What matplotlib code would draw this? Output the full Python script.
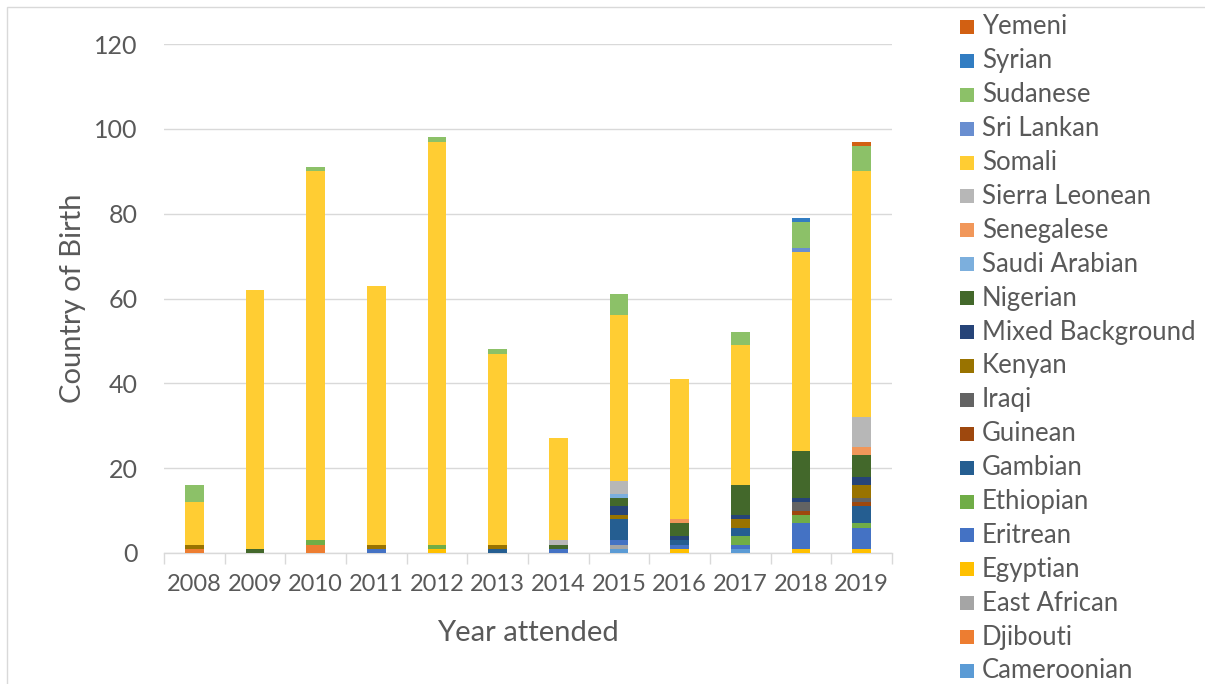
import matplotlib
matplotlib.use("Agg")
import matplotlib.pyplot as plt
from matplotlib.patches import Rectangle
import numpy as np

plt.rcParams['font.family'] = ['Lato', 'DejaVu Sans']

years = ['2008', '2009', '2010', '2011', '2012', '2013', '2014',
         '2015', '2016', '2017', '2018', '2019']

# Stacked from the bottom up
countries = ['Cameroonian', 'Djibouti', 'East African', 'Egyptian', 'Eritrean',
             'Ethiopian', 'Gambian', 'Guinean', 'Iraqi', 'Kenyan',
             'Mixed Background', 'Nigerian', 'Saudi Arabian', 'Senegalese',
             'Sierra Leonean', 'Somali', 'Sri Lankan', 'Sudanese', 'Syrian',
             'Yemeni']

cameroonian     = [0, 0, 0, 0, 0, 0, 0, 1, 0, 1, 0, 0]
djibouti        = [1, 0, 2, 0, 0, 0, 0, 0, 0, 0, 0, 0]
east_african    = [0, 0, 0, 0, 0, 0, 0, 1, 0, 0, 0, 0]
egyptian        = [0, 0, 0, 0, 1, 0, 0, 0, 1, 0, 1, 1]
eritrean        = [0, 0, 0, 1, 0, 0, 1, 1, 1, 1, 6, 5]
ethiopian       = [0, 0, 1, 0, 1, 0, 0, 0, 0, 2, 2, 1]
gambian         = [0, 0, 0, 0, 0, 1, 0, 5, 1, 2, 0, 4]
guinean         = [0, 0, 0, 0, 0, 0, 0, 0, 0, 0, 1, 1]
iraqi           = [0, 0, 0, 0, 0, 0, 0, 0, 0, 0, 2, 1]
kenyan          = [1, 0, 0, 1, 0, 1, 0, 1, 0, 2, 0, 3]
mixed           = [0, 0, 0, 0, 0, 0, 0, 2, 1, 1, 1, 2]
nigerian        = [0, 1, 0, 0, 0, 0, 1, 2, 3, 7, 11, 5]
saudi_arabian   = [0, 0, 0, 0, 0, 0, 0, 1, 0, 0, 0, 0]
senegalese      = [0, 0, 0, 0, 0, 0, 0, 0, 1, 0, 0, 2]
sierra_leonean  = [0, 0, 0, 0, 0, 0, 1, 3, 0, 0, 0, 7]
somali          = [10, 61, 87, 61, 95, 45, 24, 39, 33, 33, 47, 58]
sri_lankan      = [0, 0, 0, 0, 0, 0, 0, 0, 0, 0, 1, 0]
sudanese        = [4, 0, 1, 0, 1, 1, 0, 5, 0, 3, 6, 6]
syrian          = [0, 0, 0, 0, 0, 0, 0, 0, 0, 0, 1, 0]
yemeni          = [0, 0, 0, 0, 0, 0, 0, 0, 0, 0, 0, 1]

series = [cameroonian, djibouti, east_african, egyptian, eritrean, ethiopian,
          gambian, guinean, iraqi, kenyan, mixed, nigerian, saudi_arabian,
          senegalese, sierra_leonean, somali, sri_lankan, sudanese, syrian,
          yemeni]

colors = ['#5B9BD5', '#ED7D31', '#A5A5A5', '#FFC000', '#4472C4', '#70AD47',
          '#255E91', '#9E480E', '#636363', '#997300', '#264478', '#43682B',
          '#7CAFDD', '#F1975A', '#B7B7B7', '#FFCD33', '#698ED0', '#8CC168',
          '#327DC2', '#D26012']

W, H = 1205, 684
fig = plt.figure(figsize=(W / 100, H / 100), dpi=100)

# Chart-area frame
fig.patches.append(Rectangle((7 / W, -0.1), 1.2, 1.1 - 7 / H, transform=fig.transFigure,
                             facecolor='none', edgecolor='#D9D9D9', linewidth=1.0))

ax = fig.add_axes([164 / W, (H - 553) / H, 728 / W, (553 - 44) / H])

text_color = '#595959'
x = np.arange(len(years))
bottom = np.zeros(len(years))
for name, vals, col in zip(countries, series, colors):
    v = np.array(vals, dtype=float)
    ax.bar(x, v, width=0.31, bottom=bottom, color=col, label=name,
           edgecolor='none', zorder=3)
    bottom += v

ax.set_xlim(-0.5, len(years) - 0.5)
ax.set_ylim(0, 120)
ax.set_yticks(np.arange(0, 121, 20))
ax.yaxis.grid(True, color='#D9D9D9', linewidth=1.0, zorder=0)
ax.set_axisbelow(True)

for s in ['top', 'right', 'left']:
    ax.spines[s].set_visible(False)
ax.spines['bottom'].set_color('#D9D9D9')
ax.spines['bottom'].set_linewidth(1.0)

ax.set_xticks(x)
ax.set_xticklabels(years, fontsize=17, color=text_color)
ax.tick_params(axis='x', length=0, pad=15)
ax.set_xticks(np.arange(-0.5, len(years), 1.0), minor=True)
ax.tick_params(axis='x', which='minor', length=8, color='#D9D9D9', width=1.0)
ax.tick_params(axis='y', length=0, pad=19, labelsize=18, labelcolor=text_color)

ax.set_xlabel('Year attended', fontsize=21, color=text_color, labelpad=18)
ax.set_ylabel('Country of Birth', fontsize=21, color=text_color, labelpad=6)

# Legend, top entry is the last stacked series
top_y = 27
step = (671 - 27) / 19
for i, (name, col) in enumerate(zip(countries[::-1], colors[::-1])):
    yc = top_y + i * step
    fig.patches.append(Rectangle((960 / W, 1 - (yc + 7) / H), 14 / W, 14 / H,
                                 transform=fig.transFigure, facecolor=col,
                                 edgecolor='none'))
    fig.text(982 / W, 1 - yc / H, name, fontsize=18.5, color=text_color,
             va='center', ha='left')

fig.savefig('out.png', dpi=100)
